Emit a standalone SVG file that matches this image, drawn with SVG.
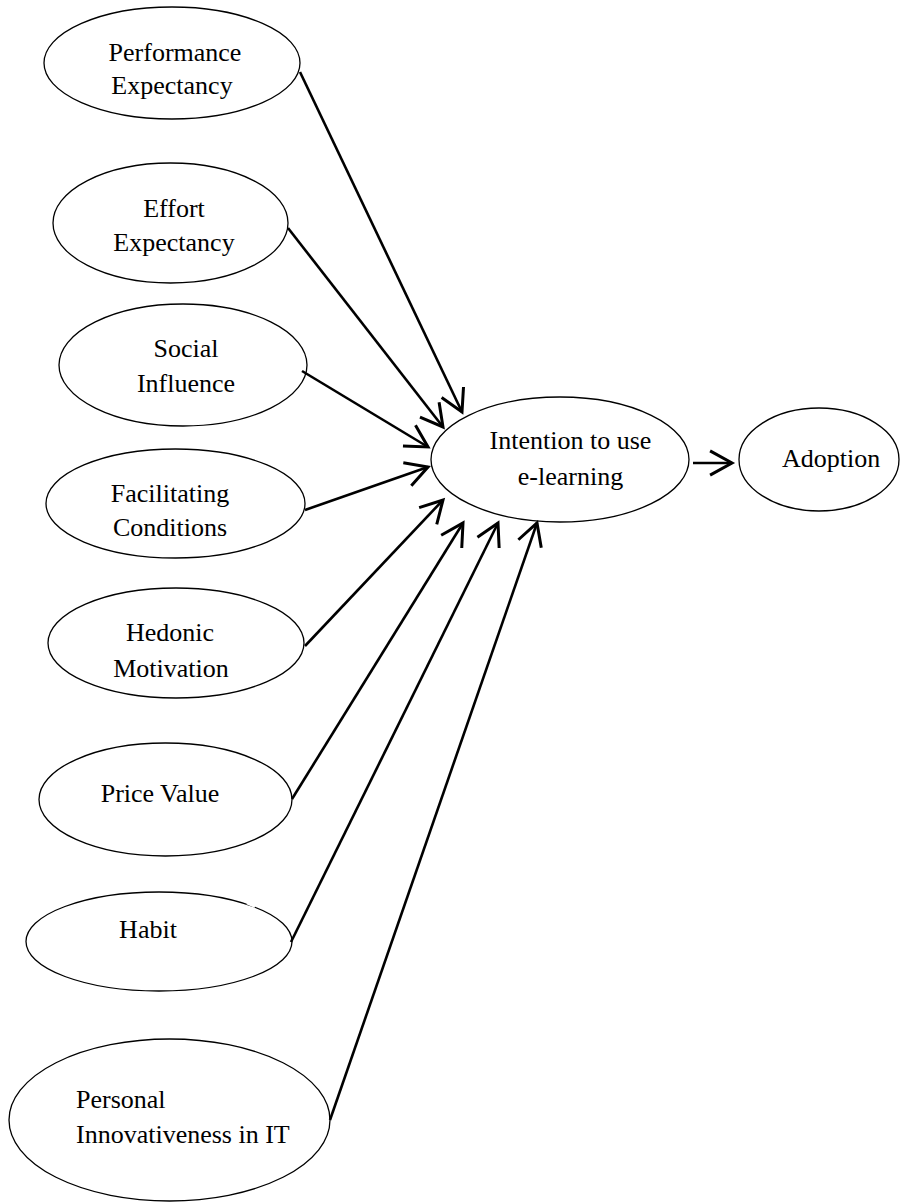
<svg xmlns="http://www.w3.org/2000/svg" width="900" height="1202" viewBox="0 0 900 1202">
  <style>
    .node ellipse { fill: #ffffff; stroke: #000000; stroke-width: 1.3; }
    .node text { font-family: "Liberation Serif", "Times New Roman", serif; font-size: 26px; fill: #000000; }
    .mid { text-anchor: middle; }
    #connectors line { stroke: #000000; stroke-width: 2.6; fill: none; marker-end: url(#openArrow); }
  </style>
  <defs>
    <marker id="openArrow" markerUnits="userSpaceOnUse" markerWidth="30" markerHeight="30" viewBox="-22 -13 26 26" refX="0" refY="0" orient="auto">
      <path d="M -19 -10.5 L 0 0 L -19 10.5" fill="none" stroke="#000000" stroke-width="2.6" stroke-linejoin="miter"/>
    </marker>
  </defs>

  <rect x="0" y="0" width="900" height="1202" fill="#ffffff"/>

  <!-- predictor constructs -->
  <g id="performance-expectancy" class="node">
    <ellipse cx="172" cy="63" rx="128" ry="56"/>
    <text class="mid" x="175" y="61">Performance</text>
    <text class="mid" x="172" y="94">Expectancy</text>
  </g>

  <g id="effort-expectancy" class="node">
    <ellipse cx="170.5" cy="223" rx="117.5" ry="60"/>
    <text class="mid" x="174" y="217">Effort</text>
    <text class="mid" x="174" y="251">Expectancy</text>
  </g>

  <g id="social-influence" class="node">
    <ellipse cx="183" cy="365" rx="124" ry="61"/>
    <text class="mid" x="186" y="357">Social</text>
    <text class="mid" x="186" y="392">Influence</text>
  </g>

  <g id="facilitating-conditions" class="node">
    <ellipse cx="175.5" cy="503.5" rx="129.5" ry="54.5"/>
    <text class="mid" x="170" y="502">Facilitating</text>
    <text class="mid" x="170" y="536">Conditions</text>
  </g>

  <g id="hedonic-motivation" class="node">
    <ellipse cx="176" cy="643" rx="128" ry="55"/>
    <text class="mid" x="170" y="641">Hedonic</text>
    <text class="mid" x="171" y="677">Motivation</text>
  </g>

  <g id="price-value" class="node">
    <ellipse cx="165.5" cy="799.5" rx="126.5" ry="56.5"/>
    <text class="mid" x="160" y="802">Price Value</text>
  </g>

  <g id="habit" class="node">
    <ellipse cx="159" cy="941.5" rx="133" ry="49.5"/>
    <!-- small break in the outline, upper right -->
    <line x1="247" y1="903" x2="255" y2="906.5" stroke="#ffffff" stroke-width="3"/>
    <text class="mid" x="148" y="938">Habit</text>
  </g>

  <g id="personal-innovativeness" class="node">
    <ellipse cx="169.5" cy="1120" rx="160.5" ry="81"/>
    <text x="76" y="1108">Personal</text>
    <text x="76" y="1143">Innovativeness in IT</text>
  </g>

  <!-- outcome constructs -->
  <g id="intention" class="node">
    <ellipse cx="560" cy="459.5" rx="129" ry="62.5"/>
    <text class="mid" x="570.5" y="449">Intention to use</text>
    <text class="mid" x="570.5" y="485">e-learning</text>
  </g>

  <g id="adoption" class="node">
    <ellipse cx="819" cy="459.5" rx="80" ry="51.5"/>
    <text x="782" y="467">Adoption</text>
  </g>

  <!-- paths into intention and adoption -->
  <g id="connectors">
    <line x1="300" y1="72" x2="462" y2="412"/>
    <line x1="288" y1="228" x2="443" y2="427"/>
    <line x1="302" y1="371" x2="428" y2="447"/>
    <line x1="305" y1="510" x2="428" y2="467"/>
    <line x1="305" y1="646" x2="443" y2="500"/>
    <line x1="292" y1="799" x2="463" y2="523"/>
    <line x1="291" y1="942" x2="498" y2="523"/>
    <line x1="330" y1="1120" x2="537" y2="523"/>
    <line x1="693" y1="463" x2="732" y2="463"/>
  </g>
</svg>
